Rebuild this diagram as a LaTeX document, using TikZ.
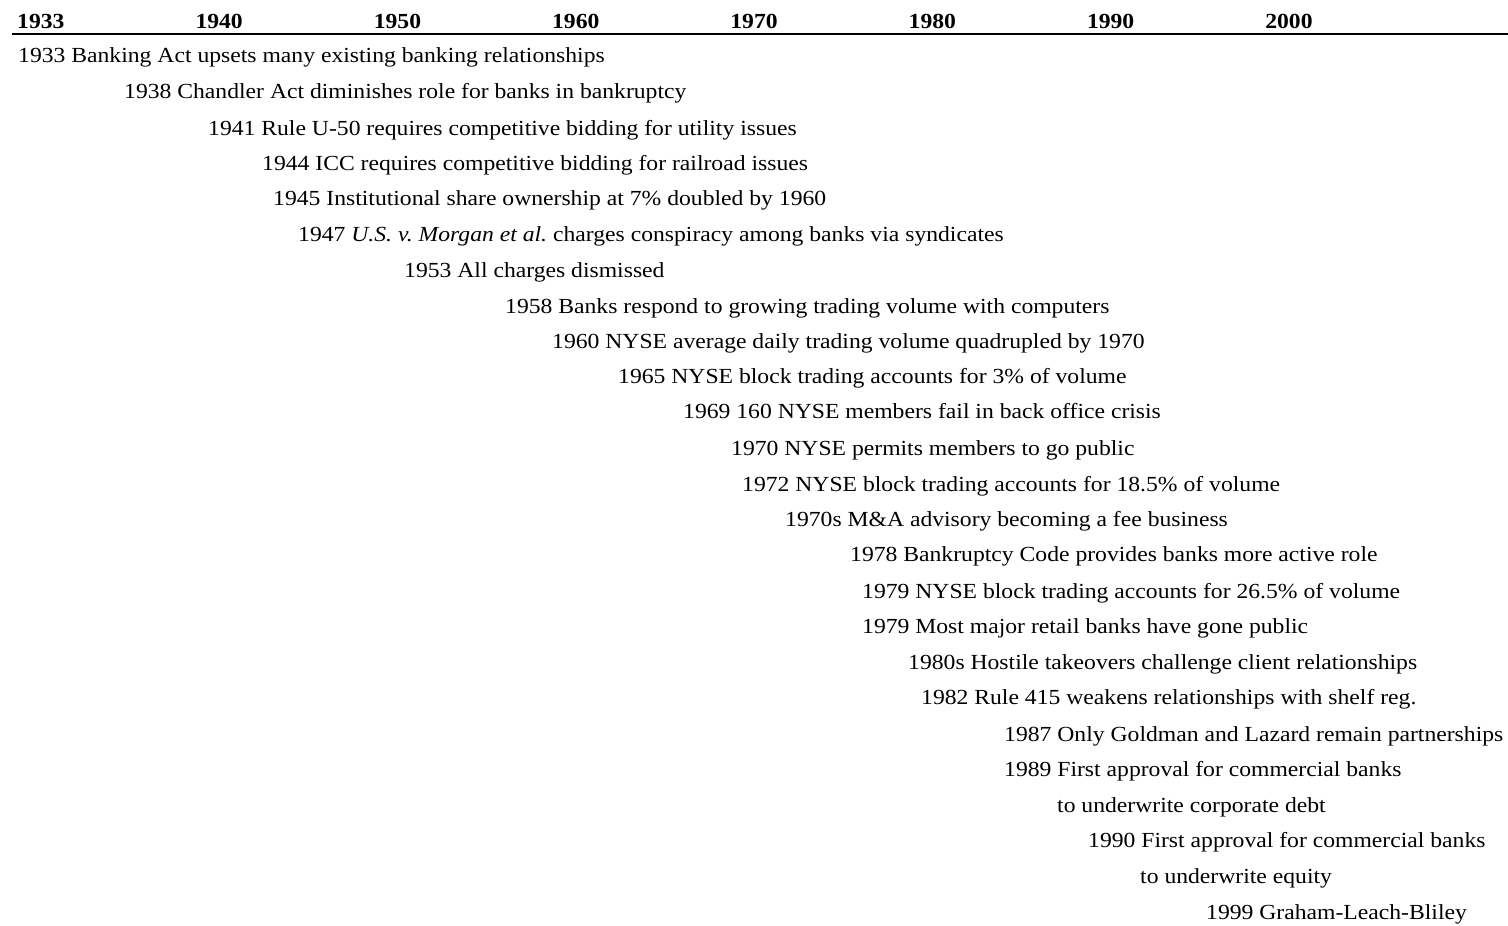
\documentclass[tikz,border=0pt]{standalone}
\usepackage{fontspec}
\setmainfont[FakeStretch=1.1]{Liberation Serif}
\usepackage{tikz}
\usetikzlibrary{positioning,calc}

\tikzset{
    decade/.style={anchor=base west, inner sep=0pt, font=\fontsize{21.5}{25}\selectfont\bfseries},
    event/.style={anchor=base west, inner sep=0pt, font=\fontsize{21.5}{25}\selectfont\frenchspacing}
}

\begin{document}
\begin{tikzpicture}[x=1pt,y=-1pt]
    \useasboundingbox (0,0) rectangle (1508,926);

    % Decades
    \foreach \yr [count=\i from 0] in {1933,1940,1950,1960,1970,1980,1990,2000} {
        \node[decade] (d\yr) at (17+178.3*\i, 28) {\yr};
    }

    % Rule under the decades
    \coordinate (ruleL) at (12,34);
    \coordinate (ruleR) at (1508,34);
    \draw[line width=1.6pt] (ruleL) -- (ruleR);

    % Events, one per line
    \foreach \x/\y/\txt [count=\n] in {
        18/62/{1933 Banking Act upsets many existing banking relationships},
        124/98/{1938 Chandler Act diminishes role for banks in bankruptcy},
        208/135/{1941 Rule U-50 requires competitive bidding for utility issues},
        262/170/{1944 ICC requires competitive bidding for railroad issues},
        273/205/{1945 Institutional share ownership at 7\% doubled by 1960},
        298/241/{1947 \emph{U.S. v. Morgan et al.} charges conspiracy among banks via syndicates},
        404/277/{1953 All charges dismissed},
        505/313/{1958 Banks respond to growing trading volume with computers},
        552/348/{1960 NYSE average daily trading volume quadrupled by 1970},
        618/383/{1965 NYSE block trading accounts for 3\% of volume},
        683/418/{1969 160 NYSE members fail in back office crisis},
        731/455/{1970 NYSE permits members to go public},
        742/491/{1972 NYSE block trading accounts for 18.5\% of volume},
        785/526/{1970s M\&A advisory becoming a fee business},
        850/561/{1978 Bankruptcy Code provides banks more active role},
        862/598/{1979 NYSE block trading accounts for 26.5\% of volume},
        862/633/{1979 Most major retail banks have gone public},
        908/669/{1980s Hostile takeovers challenge client relationships},
        921/704/{1982 Rule 415 weakens relationships with shelf reg.},
        1004/741/{1987 Only Goldman and Lazard remain partnerships},
        1004/776/{1989 First approval for commercial banks},
        1057/812/{to underwrite corporate debt},
        1088/847/{1990 First approval for commercial banks},
        1140/883/{to underwrite equity},
        1206/919/{1999 Graham-Leach-Bliley}} {
        \node[event] (e\n) at (\x,\y) {\txt};
    }
\end{tikzpicture}
\end{document}
